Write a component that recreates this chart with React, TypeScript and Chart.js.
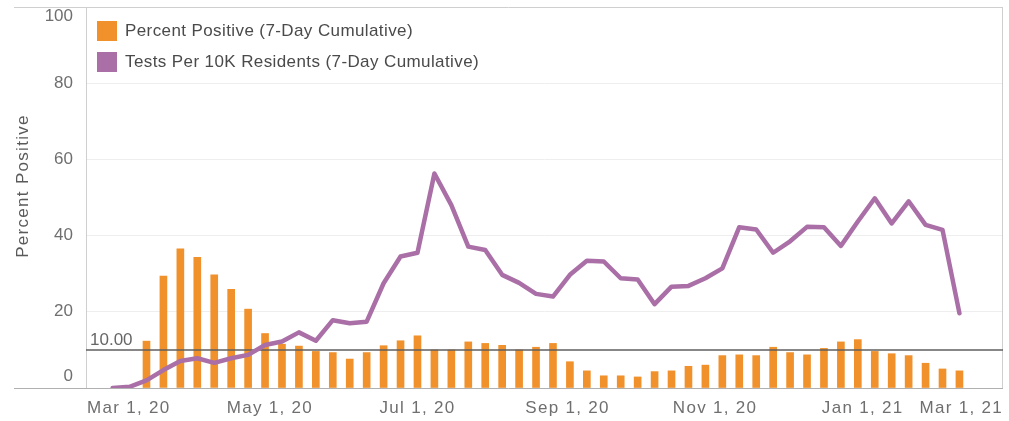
import React, { useEffect, useRef } from "react";
import { Chart, registerables } from "chart.js";

Chart.register(...registerables);

// Week dates (each point in the series)
const weekDates = [
  "2020-02-26", "2020-03-04", "2020-03-11", "2020-03-18", "2020-03-25",
  "2020-04-01", "2020-04-08", "2020-04-15", "2020-04-22", "2020-04-29",
  "2020-05-06", "2020-05-13", "2020-05-20", "2020-05-27", "2020-06-03",
  "2020-06-10", "2020-06-17", "2020-06-24", "2020-07-01", "2020-07-08",
  "2020-07-15", "2020-07-22", "2020-07-29", "2020-08-05", "2020-08-12",
  "2020-08-19", "2020-08-26", "2020-09-02", "2020-09-09", "2020-09-16",
  "2020-09-23", "2020-09-30", "2020-10-07", "2020-10-14", "2020-10-21",
  "2020-10-28", "2020-11-04", "2020-11-11", "2020-11-18", "2020-11-25",
  "2020-12-02", "2020-12-09", "2020-12-16", "2020-12-23", "2020-12-30",
  "2021-01-06", "2021-01-13", "2021-01-20", "2021-01-27", "2021-02-03",
  "2021-02-10",
];

const percentPositive: (number | null)[] = [
  null, null, 12.3, 29.4, 36.5, 34.3, 29.7, 25.9, 20.7, 14.3,
  11.5, 11.0, 9.6, 9.3, 7.6, 9.3, 11.1, 12.4, 13.7, 10.0,
  10.0, 12.1, 11.7, 11.2, 10.0, 10.7, 11.7, 6.9, 4.5, 3.2,
  3.2, 2.9, 4.3, 4.5, 5.7, 6.0, 8.5, 8.7, 8.5, 10.7,
  9.3, 8.7, 10.4, 12.1, 12.7, 9.6, 9.0, 8.5, 6.5, 5.0,
  4.5,
];

const testsPer10K: number[] = [
  0, 0.3, 2.0, 4.7, 7.1, 7.8, 6.6, 7.8, 8.7, 11.3,
  12.2, 14.6, 12.4, 17.8, 17.0, 17.4, 27.5, 34.5, 35.5, 56.3,
  48.0, 37.1, 36.2, 29.7, 27.6, 24.7, 24.0, 29.7, 33.4, 33.2,
  28.8, 28.5, 22.0, 26.6, 26.8, 28.8, 31.4, 42.2, 41.6, 35.5,
  38.5, 42.3, 42.2, 37.3, 43.7, 49.8, 43.2, 49.0, 42.8, 41.5,
  19.6,
];

const xTickDates = ["2020-03-01", "2020-05-01", "2020-07-01", "2020-09-01", "2020-11-01", "2021-01-01", "2021-03-01"];
const xTickLabels = ["Mar 1, 20", "May 1, 20", "Jul 1, 20", "Sep 1, 20", "Nov 1, 20", "Jan 1, 21", "Mar 1, 21"];
const yTickValues = [0, 20, 40, 60, 80, 100];
const referenceValue = 10;
const referenceLabel = "10.00";
const seriesLabels = ["Percent Positive (7-Day Cumulative)", "Tests Per 10K Residents (7-Day Cumulative)"];
const yAxisTitle = "Percent Positive";

const ORANGE = "#F0912C";
const PURPLE = "#A96FA6";
const FONT = '"Liberation Sans", Arial, sans-serif';

const ORIGIN = Date.parse("2020-03-01");
const dayOf = (s: string) => (Date.parse(s) - ORIGIN) / 86400000;

const overlayPlugin = {
  id: "overlay",
  beforeDatasetsDraw(chart: any) {
    const { ctx, chartArea: a } = chart;
    ctx.save();
    ctx.lineWidth = 1;
    ctx.strokeStyle = "#cfcfcf";
    ctx.beginPath();
    ctx.moveTo(14, Math.round(a.top) + 0.5);
    ctx.lineTo(a.right, Math.round(a.top) + 0.5);
    ctx.moveTo(Math.round(a.left) + 0.5, a.top);
    ctx.lineTo(Math.round(a.left) + 0.5, a.bottom);
    ctx.moveTo(Math.round(a.right) - 0.5, a.top);
    ctx.lineTo(Math.round(a.right) - 0.5, a.bottom);
    ctx.stroke();
    ctx.restore();
  },
  afterDatasetDraw(chart: any, args: any) {
    if (args.index !== 0) return;
    const { ctx, chartArea: a } = chart;
    const y = chart.scales.y.getPixelForValue(referenceValue);
    ctx.save();
    ctx.strokeStyle = "rgba(95,95,95,0.75)";
    ctx.lineWidth = 2;
    ctx.beginPath();
    ctx.moveTo(a.left, y);
    ctx.lineTo(a.right, y);
    ctx.stroke();
    ctx.font = `17px ${FONT}`;
    ctx.fillStyle = "#666";
    ctx.textAlign = "left";
    ctx.textBaseline = "middle";
    ctx.fillText(referenceLabel, a.left + 4, y - 10);
    ctx.restore();
  },
  afterDraw(chart: any) {
    const { ctx, chartArea: a } = chart;
    const xs = chart.scales.x;
    const ys = chart.scales.y;
    ctx.save();
    // baseline extended to the left
    ctx.strokeStyle = "#b0b0b0";
    ctx.lineWidth = 1;
    ctx.beginPath();
    ctx.moveTo(14, Math.round(a.bottom) + 0.5);
    ctx.lineTo(a.right, Math.round(a.bottom) + 0.5);
    ctx.stroke();

    // y tick labels
    ctx.font = `17px ${FONT}`;
    ctx.fillStyle = "#6f6f6f";
    ctx.textAlign = "right";
    ctx.textBaseline = "middle";
    yTickValues.forEach((v) => {
      let y = ys.getPixelForValue(v);
      if (v === ys.max) y += 9;
      if (v === ys.min) y -= 12;
      ctx.fillText(String(v), 73, y);
    });

    // x tick labels
    (ctx as any).letterSpacing = "1.3px";
    ctx.textAlign = "left";
    xTickDates.forEach((d, i) => {
      const px = xs.getPixelForValue(dayOf(d));
      const w = ctx.measureText(xTickLabels[i]).width;
      let left = px - w / 2;
      if (left < a.left + 1) left = a.left + 1;
      if (left + w > a.right) left = a.right - w;
      ctx.fillText(xTickLabels[i], left, 408);
    });

    // y axis title
    ctx.save();
    ctx.translate(23, 186);
    ctx.rotate(-Math.PI / 2);
    ctx.textAlign = "center";
    ctx.fillStyle = "#5a5a5a";
    ctx.fillText(yAxisTitle, 0, 0);
    ctx.restore();

    // legend
    (ctx as any).letterSpacing = "0.4px";
    ctx.textAlign = "left";
    ctx.fillStyle = "#4a4a4a";
    const colors = [ORANGE, PURPLE];
    seriesLabels.forEach((lab, i) => {
      const top = 21 + i * 31;
      ctx.fillStyle = colors[i];
      ctx.fillRect(97, top, 20, 20);
      ctx.fillStyle = "#4a4a4a";
      ctx.fillText(lab, 125, top + 10.5);
    });
    (ctx as any).letterSpacing = "0px";
    ctx.restore();
  },
};

export default function App() {
  const canvasRef = useRef<HTMLCanvasElement | null>(null);

  useEffect(() => {
    if (!canvasRef.current) return;
    const barData = weekDates
      .map((d, i) => ({ x: dayOf(d), y: percentPositive[i] }))
      .filter((p) => p.y !== null);
    const lineData = weekDates.map((d, i) => ({ x: dayOf(d), y: testsPer10K[i] }));

    const chart = new Chart(canvasRef.current, {
      type: "bar",
      data: {
        datasets: [
          {
            type: "bar",
            label: seriesLabels[0],
            data: barData as any,
            backgroundColor: ORANGE,
            barThickness: 7,
            order: 1,
          },
          {
            type: "line",
            label: seriesLabels[1],
            data: lineData as any,
            borderColor: PURPLE,
            borderWidth: 4.5,
            pointRadius: 0,
            tension: 0,
            borderJoinStyle: "round",
            borderCapStyle: "round",
            order: 0,
          },
        ],
      },
      options: {
        animation: false,
        responsive: true,
        maintainAspectRatio: false,
        events: [],
        layout: { padding: { left: 8, top: 7, right: 6, bottom: 0 } },
        plugins: { legend: { display: false }, tooltip: { enabled: false } },
        scales: {
          x: {
            type: "linear",
            min: -15,
            max: 364,
            offset: false,
            ticks: { display: false },
            grid: { display: false },
            border: { display: false },
            afterFit: (s: any) => {
              s.height = 33;
            },
          },
          y: {
            min: 0,
            max: 100,
            ticks: { display: false, stepSize: 20 },
            grid: {
              drawTicks: false,
              color: (c: any) => (c.tick && (c.tick.value === 0 || c.tick.value === 100) ? "rgba(0,0,0,0)" : "#eeeeee"),
            },
            border: { display: false },
            afterFit: (s: any) => {
              s.width = 78;
            },
          },
        },
      },
      plugins: [overlayPlugin],
    });
    return () => chart.destroy();
  }, []);

  return (
    <div style={{ position: "fixed", left: 0, top: 0, width: 1009, height: 421, background: "#fff" }}>
      <canvas ref={canvasRef} />
    </div>
  );
}
